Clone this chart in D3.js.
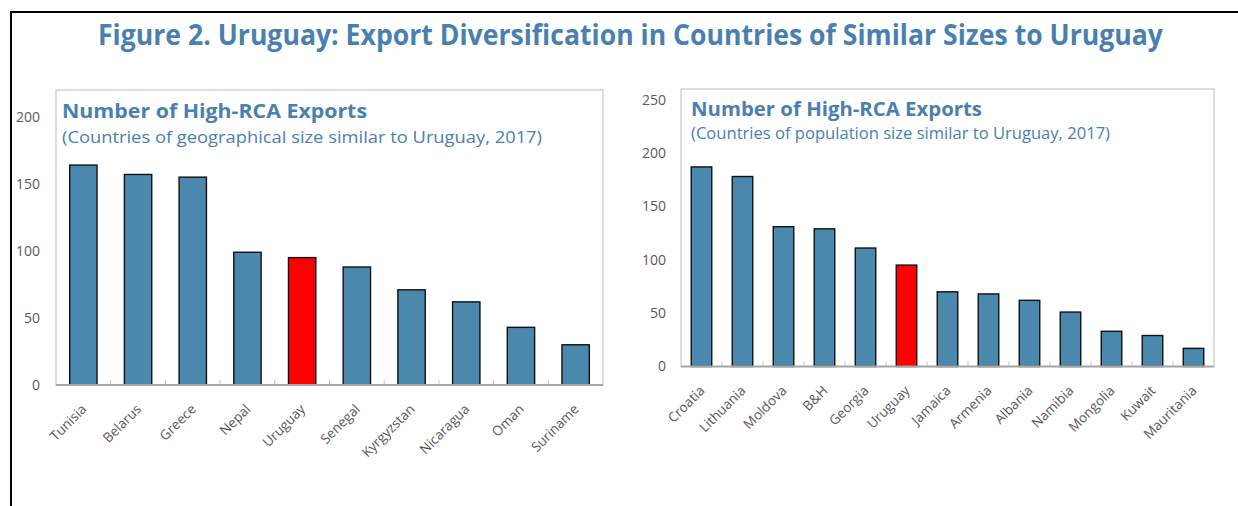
<!DOCTYPE html>
<html>
<head>
<meta charset="utf-8">
<script src="https://cdn.jsdelivr.net/npm/d3@7"></script>
<style>
  html, body { margin: 0; padding: 0; background: #fff; }
  svg { display: block; font-family: "Open Sans", "Noto Sans", sans-serif; }
</style>
</head>
<body>
<svg id="chart" width="1238" height="506"></svg>
<script>
// Figure title and panel headings
const figureTitle = "Figure 2. Uruguay: Export Diversification in Countries of Similar Sizes to Uruguay";
const panelTitle = "Number of High-RCA Exports";
const geoSubtitle = "(Countries of geographical size similar to Uruguay, 2017)";
const popSubtitle = "(Countries of population size similar to Uruguay, 2017)";

// Left panel: countries of similar geographical size
const geoCountries = ["Tunisia", "Belarus", "Greece", "Nepal", "Uruguay", "Senegal", "Kyrgyzstan", "Nicaragua", "Oman", "Suriname"];
const geoValues = [164, 157, 155, 99, 95, 88, 71, 62, 43, 30];
const geoTicks = [0, 50, 100, 150, 200];

// Right panel: countries of similar population size
const popCountries = ["Croatia", "Lithuania", "Moldova", "B&H", "Georgia", "Uruguay", "Jamaica", "Armenia", "Albania", "Namibia", "Mongolia", "Kuwait", "Mauritania"];
const popValues = [187, 178, 131, 129, 111, 95, 70, 68, 62, 51, 33, 29, 17];
const popTicks = [0, 50, 100, 150, 200, 250];

const highlight = "Uruguay";
const blue = "#4a89ad";
const red = "#ff0000";
const titleColor = "#4a80b0";
const textGray = "#595959";

const svg = d3.select("#chart");

// Outer frame lines (top and left)
svg.append("line").attr("x1", 10).attr("x2", 1238).attr("y1", 12).attr("y2", 12)
  .attr("stroke", "#000").attr("stroke-width", 2);
svg.append("line").attr("x1", 11).attr("x2", 11).attr("y1", 12).attr("y2", 506)
  .attr("stroke", "#000").attr("stroke-width", 2);

svg.append("text")
  .attr("x", 98).attr("y", 45)
  .attr("textLength", 1065).attr("lengthAdjust", "spacingAndGlyphs")
  .attr("fill", titleColor).attr("font-size", 28).attr("font-weight", 700)
  .text(figureTitle);

function drawPanel(opt) {
  const { left, right, top, bottom, yMax, categories, values, ticks, subtitle, tickRight, titleX, titleY, titleW, subY, subW } = opt;
  const g = svg.append("g");

  const x = d3.scaleBand().domain(categories).range([left, right]).paddingInner(0.5).paddingOuter(0.25);
  const y = d3.scaleLinear().domain([0, yMax]).range([bottom, top]);

  // plot frame
  g.append("rect")
    .attr("x", left).attr("y", top).attr("width", right - left).attr("height", bottom - top)
    .attr("fill", "none").attr("stroke", "#c8c8c8").attr("stroke-width", 1.2);

  // y tick labels
  g.selectAll(".ytick").data(ticks).join("text")
    .attr("class", "ytick")
    .attr("x", tickRight).attr("y", d => y(d)).attr("dy", "0.35em")
    .attr("text-anchor", "end").attr("fill", textGray).attr("font-size", 14)
    .text(d => d);

  // bars
  g.selectAll(".bar").data(categories).join("rect")
    .attr("class", "bar")
    .attr("x", d => x(d))
    .attr("y", (d, i) => y(values[i]))
    .attr("width", x.bandwidth())
    .attr("height", (d, i) => y(0) - y(values[i]))
    .attr("fill", d => d === highlight ? red : blue)
    .attr("stroke", "#111").attr("stroke-width", 1.4);

  // category axis with inward ticks between categories
  const bounds = d3.range(1, categories.length).map(i => left + i * (right - left) / categories.length);
  g.selectAll(".xtick").data(bounds).join("line")
    .attr("class", "xtick")
    .attr("x1", d => d).attr("x2", d => d)
    .attr("y1", bottom).attr("y2", bottom - 5)
    .attr("stroke", "#bfbfbf").attr("stroke-width", 1);
  g.append("line")
    .attr("x1", left).attr("x2", right).attr("y1", bottom).attr("y2", bottom)
    .attr("stroke", "#a6a6a6").attr("stroke-width", 2);

  // rotated category labels
  g.selectAll(".xlab").data(categories).join("text")
    .attr("class", "xlab")
    .attr("transform", d => `translate(${x(d) + x.bandwidth() / 2 + 4},${bottom + 25}) rotate(-45)`)
    .attr("text-anchor", "end").attr("fill", textGray).attr("font-size", 13.5)
    .text(d => d);

  // panel heading
  g.append("text")
    .attr("x", titleX).attr("y", titleY)
    .attr("textLength", titleW).attr("lengthAdjust", "spacingAndGlyphs")
    .attr("fill", titleColor).attr("font-size", 20).attr("font-weight", 700)
    .text(panelTitle);
  g.append("text")
    .attr("x", titleX).attr("y", subY)
    .attr("textLength", subW).attr("lengthAdjust", "spacingAndGlyphs")
    .attr("fill", titleColor).attr("font-size", 17)
    .text(subtitle);
}

drawPanel({
  left: 56, right: 603, top: 90, bottom: 385, yMax: 220,
  categories: geoCountries, values: geoValues, ticks: geoTicks, subtitle: geoSubtitle,
  tickRight: 40, titleX: 62, titleY: 118, titleW: 305, subY: 143, subW: 480
});

drawPanel({
  left: 681, right: 1214, top: 89, bottom: 366.5, yMax: 260,
  categories: popCountries, values: popValues, ticks: popTicks, subtitle: popSubtitle,
  tickRight: 666, titleX: 691, titleY: 116, titleW: 291, subY: 139, subW: 419
});
</script>
</body>
</html>
